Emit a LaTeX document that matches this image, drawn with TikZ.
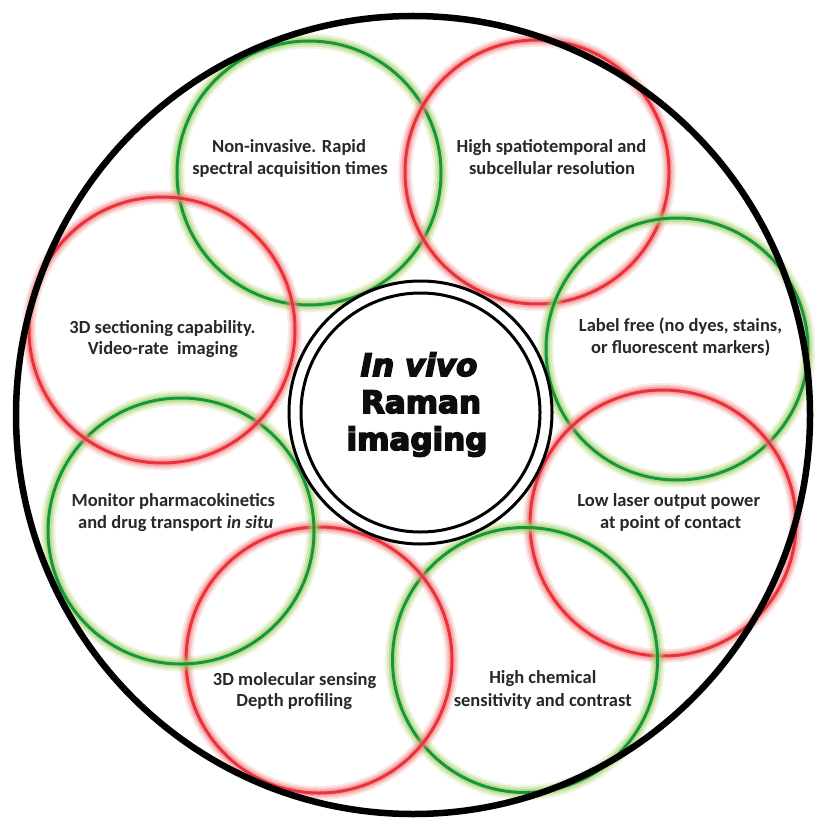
\documentclass[tikz,border=0pt]{standalone}
\usepackage{fontspec}
\setmainfont{Carlito}
\newfontfamily\heavy{DejaVu Sans}[BoldFeatures={FakeBold=5},BoldItalicFeatures={FakeBold=5}]
\definecolor{gcore}{RGB}{22,150,62}
\definecolor{gglow}{RGB}{165,210,105}
\definecolor{rcore}{RGB}{232,50,60}
\definecolor{rglow}{RGB}{244,130,130}
\definecolor{txt}{RGB}{40,40,40}
\begin{document}
\begin{tikzpicture}[x=1pt,y=-1pt,
  lbl/.style={font=\bfseries\fontsize{18.5}{22}\selectfont, text=txt, anchor=base, inner sep=0pt},
  ctr/.style={font=\heavy\bfseries\fontsize{31}{37}\selectfont, text=black!95, anchor=base, inner sep=0pt},
  gring/.style={draw=gcore, line width=3pt,
    preaction={draw=gglow, line width=15pt, opacity=0.2},
    preaction={draw=gglow, line width=11pt, opacity=0.3},
    preaction={draw=gglow, line width=7pt, opacity=0.5}},
  rring/.style={draw=rcore, line width=3pt,
    preaction={draw=rglow, line width=14pt, opacity=0.2},
    preaction={draw=rglow, line width=10pt, opacity=0.3},
    preaction={draw=rglow, line width=6.5pt, opacity=0.5}},
  blk/.style={draw=black, line width=3pt}]
\useasboundingbox (0,0) rectangle (814,818);
\fill[white] (0,0) rectangle (814,818);

% petal circles
\path[gring] (309,173) circle [radius=132pt];
\path[rring] (537,172) circle [radius=132pt];
\path[gring] (677,349) circle [radius=131pt];
\path[rring] (663,523) circle [radius=133pt];
\path[gring] (525,660) circle [radius=132.5pt];
\path[rring] (319,660) circle [radius=133pt];
\path[gring] (181,531) circle [radius=133pt];
\path[rring] (162,330) circle [radius=133pt];

% outer ring
\draw[black, line width=6.5pt] (413,415) ellipse [x radius=397pt, y radius=399pt];

% centre double circle
\fill[white] (420.5,412.5) circle [radius=131.5pt];
\path[blk] (420.5,412.5) circle [radius=131.5pt];
\path[blk] (420.5,412.5) circle [radius=119.5pt];

% centre text
\node[ctr] (c1) at (419,376) {\itshape In vivo};
\node[ctr] (c2) at (421,413) {Raman};
\node[ctr] (c3) at (417,450) {imaging};

% petal texts
\node[lbl] (t1a) at (289,153) {Non-invasive. Rapid};
\node[lbl] (t1b) at (290,175) {spectral acquisition times};
\node[lbl] (t2a) at (551.5,153) {High spatiotemporal and};
\node[lbl] (t2b) at (552,175) {subcellular resolution};
\node[lbl] (t3a) at (680.5,331.5) {Label free (no dyes, stains,};
\node[lbl] (t3b) at (680.7,353) {or fluorescent markers)};
\node[lbl] (t4a) at (668.7,506) {Low laser output power};
\node[lbl] (t4b) at (670.7,528) {at point of contact};
\node[lbl] (t5a) at (542.8,683) {High chemical};
\node[lbl] (t5b) at (542.7,706) {sensitivity and contrast};
\node[lbl] (t6a) at (294.7,685) {3D molecular sensing};
\node[lbl] (t6b) at (294.3,706) {Depth profiling};
\node[lbl] (t7a) at (173.3,506) {Monitor pharmacokinetics};
\node[lbl] (t7b) at (175.7,528) {and drug transport \textit{in situ}};
\node[lbl] (t8a) at (162.5,333) {3D sectioning capability.};
\node[lbl] (t8b) at (162.8,354) {Video-rate~ imaging};
\end{tikzpicture}
\end{document}
